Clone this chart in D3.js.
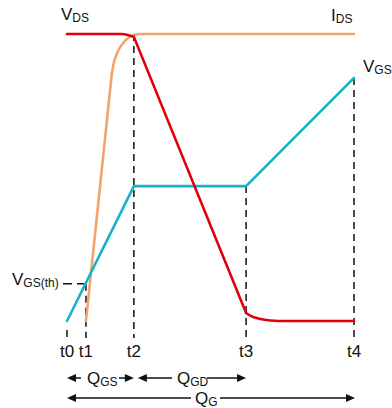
<!DOCTYPE html>
<html><head><meta charset="utf-8">
<script src="https://cdn.jsdelivr.net/npm/d3@7"></script>
<style>body{margin:0;background:#fff}svg{display:block}text{font-family:"Liberation Sans",Arial,sans-serif;fill:#111}</style>
</head><body><svg id="c" width="392" height="408"></svg>
<script>
// time markers (t0..t4) on a 0..100 time axis
const tickLabels = ["t0","t1","t2","t3","t4"];
const tickTimes = [0, 6.6, 23.3, 62.4, 100];
// series: [time, level] on a 0..100 level axis, split into straight runs and rounded corners
const vdsTop = [[0,100],[19,100],[21.5,99.6],[23.3,99.0]];
const vdsFall = [[23.3,99.0],[62.4,2.8]];
const vdsBottom = [[62.4,2.8],[64,1.8],[67,0.8],[71,0.2],[76,0],[100,0]];
const idsRise = [[6.6,0],[15.6,86]];
const idsTop = [[15.6,86],[16.2,89.5],[17.5,93.5],[19.5,96.8],[21.5,98.8],[23.3,99.7],[26,100],[100,100]];
const vgs = [[0,0],[23.3,47],[62.4,47],[100,84.7]];
const vgsTh = 13;
// dashed drop-line tops (level) for each time marker
const dropTops = [3, 13, 100, 47, 84.7];

const svg = d3.select("#c");
const x = d3.scaleLinear().domain([0,100]).range([67,354]);
const y = d3.scaleLinear().domain([0,100]).range([321,34]);
const lineC = d3.line().x(d=>x(d[0])).y(d=>y(d[1])).curve(d3.curveMonotoneX);
const lineL = d3.line().x(d=>x(d[0])).y(d=>y(d[1]));

// dashed verticals
const yBottom = 338;
svg.selectAll("line.drop").data(tickTimes).join("line")
  .attr("x1",d=>x(d)).attr("x2",d=>x(d))
  .attr("y1",(d,i)=> i===0 ? 330 : y(dropTops[i])).attr("y2",yBottom)
  .attr("stroke","#111").attr("stroke-width",1.5).attr("stroke-dasharray","7,5");
// threshold dash
svg.append("line").attr("x1",63).attr("x2",x(tickTimes[1])).attr("y1",y(vgsTh)).attr("y2",y(vgsTh))
  .attr("stroke","#111").attr("stroke-width",1.5).attr("stroke-dasharray","9,5");

function curve(gen, data, col){
  svg.append("path").attr("d",gen(data)).attr("fill","none").attr("stroke",col)
    .attr("stroke-width",2.6).attr("stroke-linejoin","round").attr("stroke-linecap","round");
}
const orange="#f2a46e", cyan="#14b4c8", red="#e0000c";
curve(lineL, idsRise, orange); curve(lineC, idsTop, orange);
curve(lineL, vgs, cyan);
curve(lineC, vdsTop, red); curve(lineL, vdsFall, red); curve(lineC, vdsBottom, red);

// labels with subscripts
function lbl(xp, yp, main, sub){
  const t = svg.append("text").attr("x",xp).attr("y",yp).attr("font-size",17);
  t.append("tspan").text(main);
  if(sub) t.append("tspan").attr("font-size",12).attr("dy",2).text(sub);
  return t;
}
lbl(61,20,"V","DS");
lbl(331,21,"I","DS");
lbl(363,72,"V","GS");
lbl(12,285,"V","GS(th)");

svg.selectAll("text.tk").data(tickTimes).join("text").attr("class","tk")
  .attr("x",d=>x(d)).attr("y",357).attr("text-anchor","middle").attr("font-size",17)
  .text((d,i)=>tickLabels[i]);

// arrows
function head(xt, yt, dir){
  const L=9, H=4;
  svg.append("path").attr("d",`M${xt},${yt} L${xt-dir*L},${yt-H} L${xt-dir*L},${yt+H} Z`).attr("fill","#111");
}
function seg(x1,x2,yy){ svg.append("line").attr("x1",x1).attr("x2",x2).attr("y1",yy).attr("y2",yy).attr("stroke","#111").attr("stroke-width",1.5); }
const r1 = 378, r2 = 398;
// QGS
head(x(tickTimes[0]),r1,-1); seg(x(tickTimes[0])+5,81,r1);
lbl(87,384,"Q","GS");
seg(119,x(tickTimes[2])-5,r1); head(x(tickTimes[2]),r1,1);
// QGD
head(x(tickTimes[2])+4,r1,-1); seg(x(tickTimes[2])+9,172,r1);
lbl(177,384,"Q","GD");
seg(207,x(tickTimes[3])-5,r1); head(x(tickTimes[3]),r1,1);
// QG
head(x(tickTimes[0]),r2,-1); seg(x(tickTimes[0])+5,191,r2);
lbl(195,404,"Q","G");
seg(220,x(tickTimes[4])-5,r2); head(x(tickTimes[4])+1,r2,1);
</script></body></html>
